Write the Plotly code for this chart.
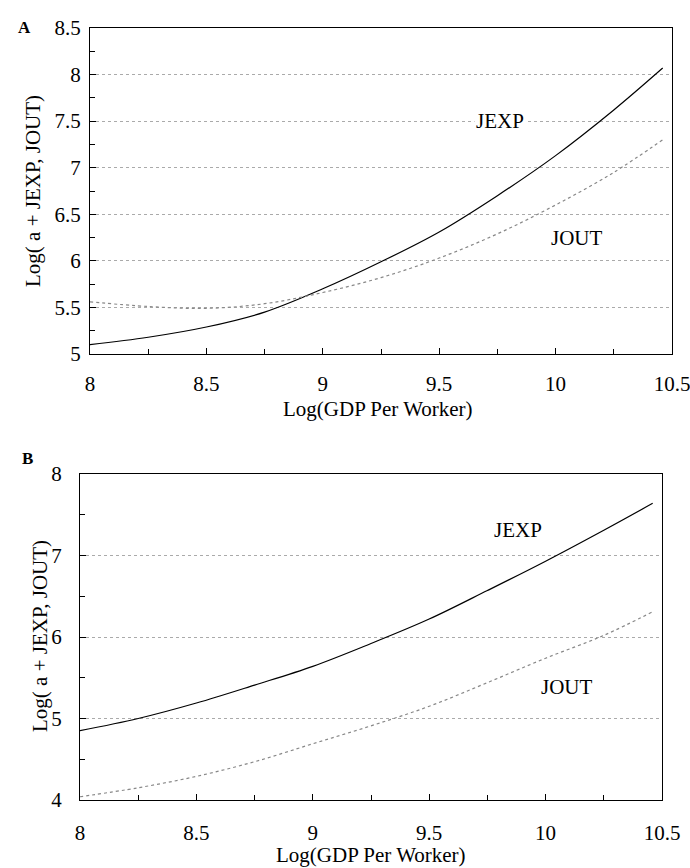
import plotly.graph_objects as go

# Panel A data
xa = [8.0, 8.25, 8.5, 8.75, 9.0, 9.25, 9.5, 9.75, 10.0, 10.25, 10.46]
jexp_a = [5.10, 5.18, 5.29, 5.45, 5.70, 5.99, 6.31, 6.70, 7.13, 7.62, 8.07]
jout_a = [5.56, 5.51, 5.49, 5.54, 5.66, 5.82, 6.03, 6.29, 6.60, 6.95, 7.30]

# Panel B data
xb = [8.0, 8.25, 8.5, 8.75, 9.0, 9.25, 9.5, 9.75, 10.0, 10.25, 10.46]
jexp_b = [4.85, 5.00, 5.19, 5.41, 5.64, 5.92, 6.22, 6.57, 6.93, 7.31, 7.64]
jout_b = [4.04, 4.15, 4.29, 4.47, 4.69, 4.91, 5.15, 5.44, 5.74, 6.02, 6.31]

font_family = "Liberation Serif"

fig = go.Figure()
fig.add_trace(go.Scatter(x=xa, y=jexp_a, mode="lines", line=dict(color="black", width=1.2, shape="spline"),
                         xaxis="x", yaxis="y", showlegend=False))
fig.add_trace(go.Scatter(x=xa, y=jout_a, mode="lines", line=dict(color="#888888", width=1.2, dash="dot", shape="spline"),
                         xaxis="x", yaxis="y", showlegend=False))
fig.add_trace(go.Scatter(x=xb, y=jexp_b, mode="lines", line=dict(color="black", width=1.2, shape="spline"),
                         xaxis="x2", yaxis="y2", showlegend=False))
fig.add_trace(go.Scatter(x=xb, y=jout_b, mode="lines", line=dict(color="#888888", width=1.2, dash="dot", shape="spline"),
                         xaxis="x2", yaxis="y2", showlegend=False))

W, H = 690, 868

def xdom(l, r):
    return [l / W, r / W]

def ydom(t, b):
    return [1 - b / H, 1 - t / H]

def px(xpix):
    return xpix / W

def py(ypix):
    return 1 - ypix / H

axis_common = dict(
    showline=True, linecolor="black", linewidth=1.2, mirror=True,
    ticks="inside", ticklen=6, tickcolor="black",
    tickfont=dict(family=font_family, size=21, color="black"),
    zeroline=False, automargin=False, ticklabeloverflow="allow",
)
title_font = dict(family=font_family, size=21, color="black")
minor_x = dict(dtick=0.25, ticks="inside", ticklen=5, tickcolor="black", showgrid=False)

fig.update_layout(
    width=W, height=H,
    margin=dict(l=0, r=0, t=0, b=0, autoexpand=False),
    paper_bgcolor="white", plot_bgcolor="white",
    font=dict(family=font_family, color="black"),
    xaxis=dict(domain=xdom(90, 672), anchor="y", range=[8, 10.5], dtick=0.5, tick0=8,
               showgrid=False, minor=minor_x, ticklabelstandoff=11,
               **axis_common),
    yaxis=dict(domain=ydom(28, 354), anchor="x", range=[5, 8.5], dtick=0.5, tick0=5,
               showgrid=True, gridcolor="#aaaaaa", griddash="dot", gridwidth=1,
               minor=dict(dtick=0.25, ticks="inside", ticklen=5, tickcolor="black", showgrid=False),
               ticklabelstandoff=4,
               **axis_common),
    xaxis2=dict(domain=xdom(80, 662), anchor="y2", range=[8, 10.5], dtick=0.5, tick0=8,
                showgrid=False, minor=minor_x, ticklabelstandoff=14,
                **axis_common),
    yaxis2=dict(domain=ydom(474, 800), anchor="x2", range=[4, 8], dtick=1, tick0=4,
                showgrid=True, gridcolor="#aaaaaa", griddash="dot", gridwidth=1,
                minor=dict(dtick=0.5, ticks="inside", ticklen=5, tickcolor="black", showgrid=False),
                ticklabelstandoff=13,
                **axis_common),
)

# axis titles
fig.add_annotation(x=px(378), y=py(409), xref="paper", yref="paper", text="Log(GDP Per Worker)",
                   showarrow=False, font=title_font, xanchor="center", yanchor="middle")
fig.add_annotation(x=px(33), y=py(191), xref="paper", yref="paper", text="Log( a + JEXP, JOUT)",
                   showarrow=False, font=title_font, textangle=-90, xanchor="center", yanchor="middle")
fig.add_annotation(x=px(371), y=py(855), xref="paper", yref="paper", text="Log(GDP Per Worker)",
                   showarrow=False, font=title_font, xanchor="center", yanchor="middle")
fig.add_annotation(x=px(40), y=py(636), xref="paper", yref="paper", text="Log( a + JEXP, JOUT)",
                   showarrow=False, font=title_font, textangle=-90, xanchor="center", yanchor="middle")

label_font = dict(family=font_family, size=21, color="black")
fig.add_annotation(x=9.76, y=7.5, xref="x", yref="y", text="JEXP", showarrow=False, font=label_font, bgcolor="white")
fig.add_annotation(x=10.09, y=6.25, xref="x", yref="y", text="JOUT", showarrow=False, font=label_font)
fig.add_annotation(x=9.88, y=7.31, xref="x2", yref="y2", text="JEXP", showarrow=False, font=label_font)
fig.add_annotation(x=10.09, y=5.39, xref="x2", yref="y2", text="JOUT", showarrow=False, font=label_font)

fig.add_annotation(x=px(16), y=py(16), xref="paper", yref="paper", text="<b>A</b>", showarrow=False,
                   font=dict(family=font_family, size=17, color="black"))
fig.add_annotation(x=px(20), y=py(458), xref="paper", yref="paper", text="<b>B</b>", showarrow=False,
                   font=dict(family=font_family, size=17, color="black"))

fig.write_html("out.html", config={"displayModeBar": False},
               post_script="document.body.style.margin='0';document.body.style.padding='0';")
